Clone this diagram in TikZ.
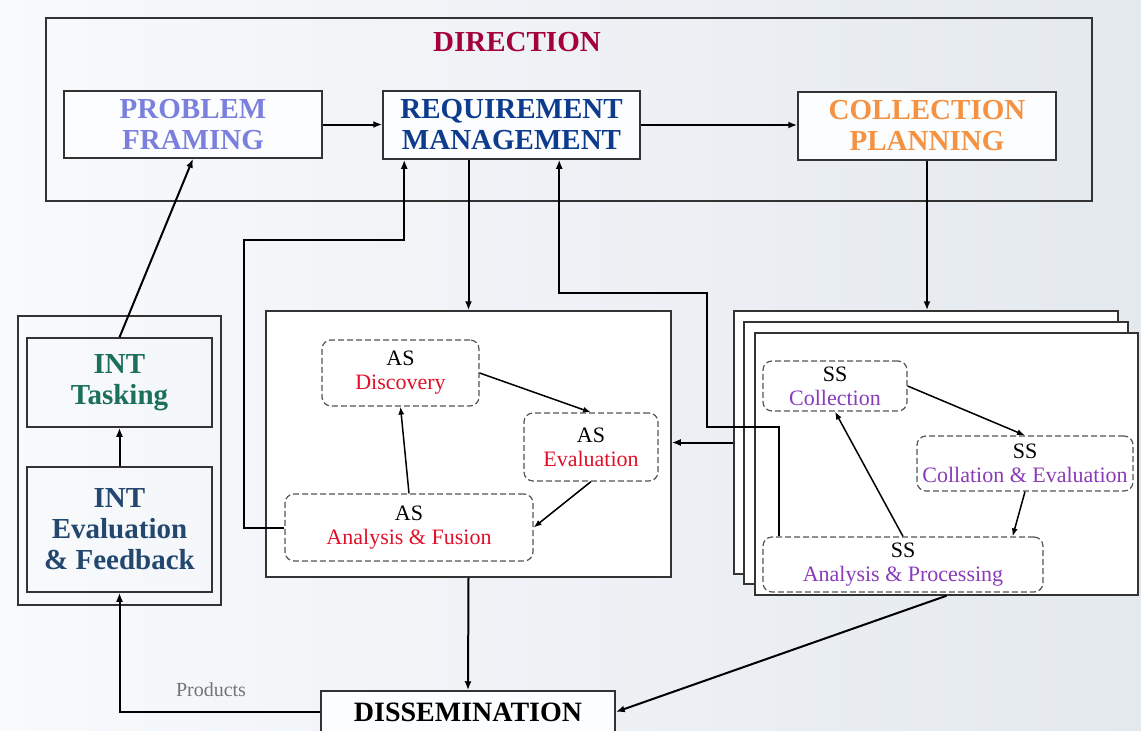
\documentclass[tikz,border=0pt]{standalone}
\usepackage{fontspec}
\setmainfont{Liberation Serif}
\usetikzlibrary{arrows.meta,calc}
\definecolor{dirc}{HTML}{A3003C}
\definecolor{pfc}{HTML}{7B80DE}
\definecolor{rmc}{HTML}{0D3B8E}
\definecolor{cpc}{HTML}{F59242}
\definecolor{tkc}{HTML}{1B6F5C}
\definecolor{evc}{HTML}{23476E}
\definecolor{asc}{HTML}{E0102A}
\definecolor{ssc}{HTML}{8A3BB8}
\definecolor{bgL}{HTML}{F8FAFC}
\definecolor{bgR}{HTML}{E4E9EE}
\definecolor{linec}{HTML}{333333}
\definecolor{dashc}{HTML}{555555}
\newcommand{\myTitleFont}{\bfseries\fontsize{29}{31}\selectfont}
\newcommand{\mySubFont}{\fontsize{22}{24}\selectfont}
\begin{document}
\begin{tikzpicture}[x=1pt,y=-1pt,
  frame/.style={draw=linec, line width=1.5pt, inner sep=0pt},
  wframe/.style={frame, fill=white},
  dbox/.style={draw=dashc, line width=1.2pt, dash pattern=on 6pt off 3pt, rounded corners=9pt, fill=white, inner sep=0pt, align=center, font=\mySubFont},
  arr/.style={-{Latex[length=9pt,width=7pt]}, line width=2pt, black},
  sarr/.style={-{Latex[length=8pt,width=6pt]}, line width=1.5pt, black},
  ttl/.style={font=\myTitleFont, align=center}
]
\clip (0,0) rectangle (1141,731);
\shade[left color=bgL, right color=bgR] (0,0) rectangle (1141,731);

% DIRECTION
\node[frame, minimum width=1046pt, minimum height=183pt] (dir) at (569,109.5) {};
\node[ttl, text=dirc] (dirt) at (517,42) {DIRECTION};
\node[frame, fill=white!60!bgL, ttl, text=pfc, minimum width=258pt, minimum height=67pt] (pf) at (193,124.5) {PROBLEM\\FRAMING};
\node[frame, fill=white!60!bgL, ttl, text=rmc, minimum width=257pt, minimum height=68pt] (rm) at (511.5,125) {REQUIREMENT\\MANAGEMENT};
\node[frame, fill=white!60!bgL, ttl, text=cpc, minimum width=258pt, minimum height=68pt] (cp) at (927,126) {COLLECTION\\PLANNING};

% Left column
\node[frame, minimum width=203pt, minimum height=289pt] (lcol) at (119.5,460.5) {};
\node[frame, ttl, text=tkc, minimum width=185pt, minimum height=89pt] (tk) at (119.5,382.5) {INT\\Tasking};
\node[frame, ttl, text=evc, minimum width=185pt, minimum height=125pt] (ev) at (119.5,529.5) {INT\\Evaluation\\\& Feedback};

% AS box
\node[wframe, minimum width=405pt, minimum height=266pt] (asbox) at (468.5,444) {};
\node[dbox, minimum width=157pt, minimum height=66pt] (asd) at (400.5,373) {AS\\\textcolor{asc}{Discovery}};
\node[dbox, minimum width=134pt, minimum height=68pt] (ase) at (591,447) {AS\\\textcolor{asc}{Evaluation}};
\node[dbox, minimum width=248pt, minimum height=67pt] (asf) at (409,527.5) {AS\\\textcolor{asc}{Analysis \& Fusion}};

% SS stack
\node[wframe, minimum width=384pt, minimum height=263pt] (f1) at (926,442.5) {};
\node[wframe, minimum width=384pt, minimum height=262pt] (f2) at (936,453) {};
\node[wframe, minimum width=383pt, minimum height=262pt] (f3) at (946.5,464) {};
\node[dbox, minimum width=144pt, minimum height=50pt] (ssco) at (835,386) {SS\\\textcolor{ssc}{Collection}};
\node[dbox, minimum width=216pt, minimum height=55pt] (sse) at (1025,463.5) {SS\\\textcolor{ssc}{Collation \& Evaluation}};
\node[dbox, minimum width=280pt, minimum height=55pt] (ssa) at (903,564.5) {SS\\\textcolor{ssc}{Analysis \& Processing}};

% Dissemination
\node[frame, fill=white!60!bgL, font=\bfseries\fontsize{28}{30}\selectfont, minimum width=294pt, minimum height=42pt] (dis) at (468,712) {DISSEMINATION};
\node[text=black!55, font=\fontsize{20}{22}\selectfont] (prod) at (211,690) {Products};

% connectors
\draw[arr] (pf.east) -- (pf.east -| rm.west);
\draw[arr] (rm.east) -- (rm.east -| cp.west);
\draw[arr] (cp.south) -- (cp.south |- f1.north);
\draw[arr] (rm.south -| asbox.north) -- (asbox.north);
\draw[arr] (asf.west) -| (244,240) -| ([xshift=22pt]rm.south west);
\draw[arr] ([xshift=17pt]ssa.north west) |- (707,427) -- (707,293) -| ([xshift=177pt]rm.south west);
\draw[arr] (f1.west) -- (f1.west -| asbox.east);
\draw[sarr] (asd.east) -- (ase.north);
\draw[sarr] (ase.south) -- (asf.east);
\draw[sarr] (asf.north) -- (asd.south);
\draw[sarr] (ssco.east) -- (sse.north);
\draw[sarr] (sse.south) -- ([xshift=-31pt]ssa.north east);
\draw[sarr] (ssa.north) -- (ssco.south);
\draw[arr] (f3.south) -- (dis.east);
\draw[arr] (asbox.south) -- (dis.north);
\draw[arr] (dis.west) -| (ev.south);
\draw[arr] (ev.north) -- (tk.south);
\draw[arr] (tk.north) -- (pf.south);
\end{tikzpicture}
\end{document}
